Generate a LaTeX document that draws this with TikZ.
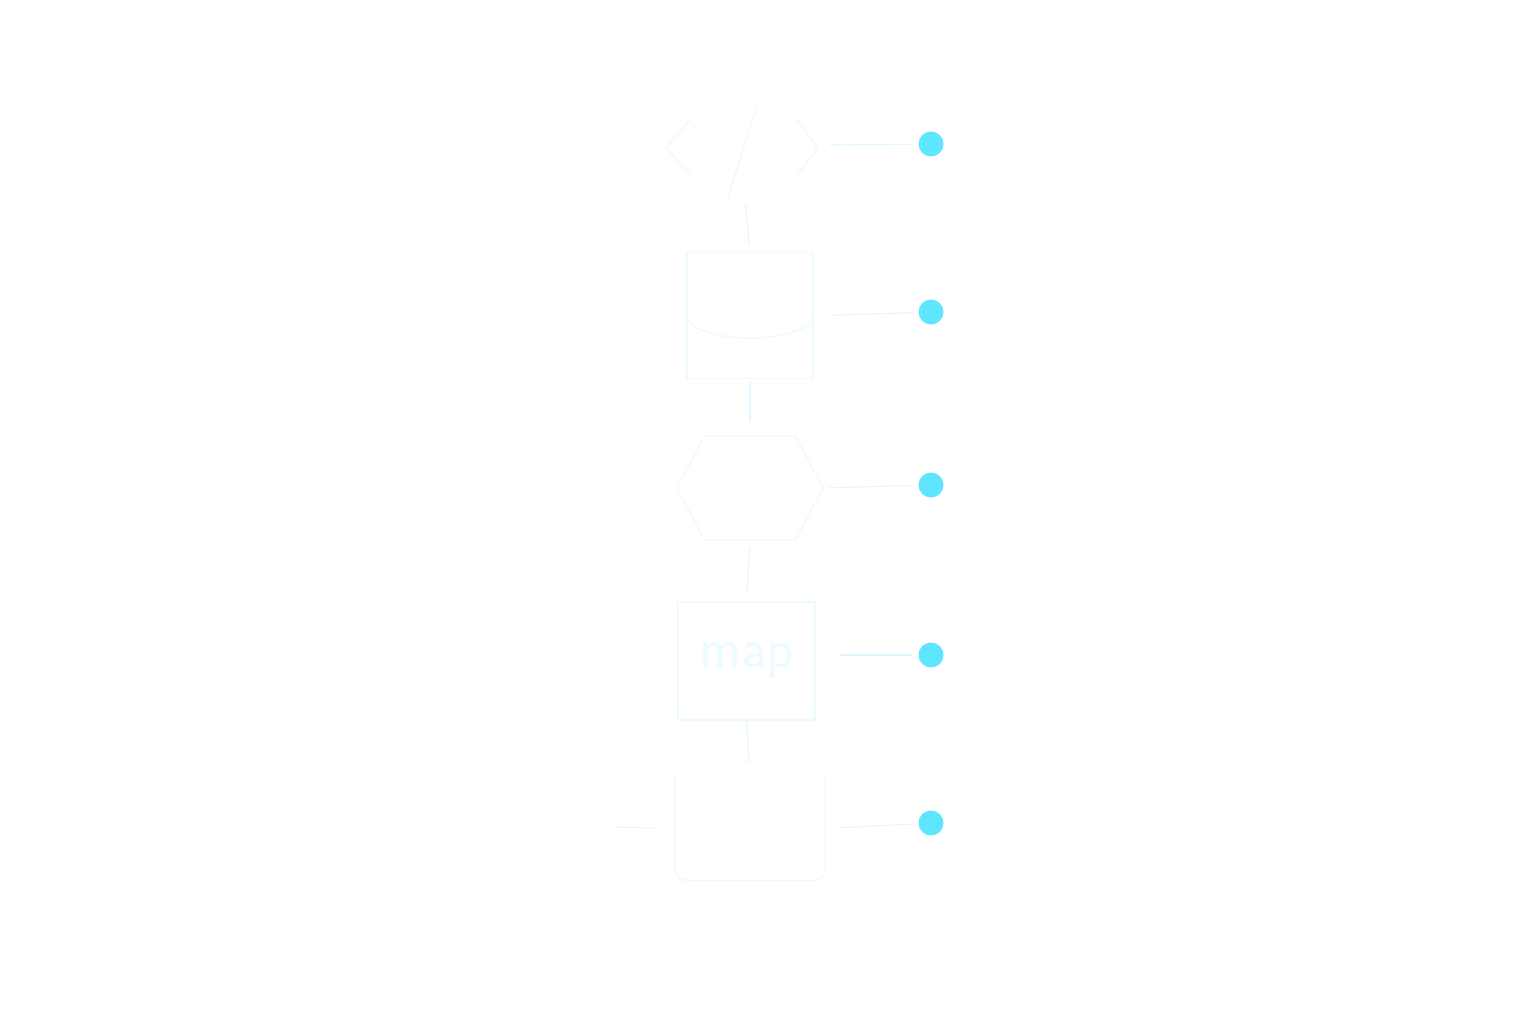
\documentclass[tikz,border=0pt]{standalone}
\usetikzlibrary{shapes.geometric,positioning,calc}
\definecolor{dotcyan}{RGB}{94,230,255}
\definecolor{ghostline}{RGB}{224,248,255}
\definecolor{ghostshape}{RGB}{236,251,255}
\tikzstyle{dot} = [circle, fill=dotcyan, minimum size=0.625cm, inner sep=0pt]
\tikzstyle{link} = [ghostline, line width=0.8pt]
\tikzstyle{stage} = [draw=ghostshape, line width=1pt, inner sep=0pt]

\begin{document}
\begin{tikzpicture}[x=0.025cm, y=-0.025cm]
\useasboundingbox (0,0) rectangle (1536,1024);
% markers on the right
\node[dot] (d1) at (931,144) {};
\node[dot] (d2) at (931,312) {};
\node[dot] (d3) at (931,485) {};
\node[dot] (d4) at (931,655) {};
\node[dot] (d5) at (931,823) {};
% code icon
\node[minimum width=3cm, minimum height=2.5cm] (code) at (745,150) {};
\draw[stage, line cap=round] (758,103) -- (728,197);
\draw[stage, line cap=round, line join=round] (690,120) -- (666,148) -- (690,175);
\draw[stage, line cap=round, line join=round] (797,120) -- (818,148) -- (797,175);
\coordinate (codeR) at (830,145);
% database
\node[stage, cylinder, shape border rotate=90, aspect=0.37, minimum width=3.15cm, minimum height=3.15cm] (db) at (750,316) {};
\draw[stage] ($(db.center)+(-63,0)$) arc[start angle=180, end angle=360, x radius=1.575cm, y radius=0.55cm];
% process hexagon
\node[minimum width=3.65cm, minimum height=2.575cm, inner sep=0pt] (hx) at (750,488) {};
\draw[stage] (hx.west) -- ([xshift=0.7cm]hx.north west) -- ([xshift=-0.7cm]hx.north east)
  -- (hx.east) -- ([xshift=-0.7cm]hx.south east) -- ([xshift=0.7cm]hx.south west) -- cycle;
% map step
\node[stage, rectangle, minimum width=3.425cm, minimum height=2.95cm, text=ghostshape,
  font=\fontsize{40}{40}\selectfont\sffamily] (mapbox) at (746.5,661) {map};
% sink
\node[minimum width=3.75cm, minimum height=2.575cm, inner sep=0pt] (sink) at (750,828.5) {};
\draw[stage, rounded corners=8pt] (sink.north west) -- (sink.south west) -- (sink.south east) -- (sink.north east);
\coordinate (inL) at (615,827);
% vertical flow
\draw[link] (code.south) -- (db.north) [shorten <=0.075cm, shorten >=0.2cm];
\draw[link, shorten <=0.05cm, shorten >=0.35cm] (db.south) -- (hx.north);
\draw[link, shorten <=0.2cm, shorten >=0.225cm] (hx.south) -- (mapbox.north);
\draw[link, shorten >=0.35cm] (mapbox.south) -- (sink.north);
\draw[link, shorten >=0.45cm] (inL) -- (sink.west);
% links to markers
\draw[link, shorten >=0.15cm] (codeR) -- (d1);
\draw[link, shorten <=0.425cm, shorten >=0.15cm] (db.east) -- (d2);
\draw[link, shorten <=0.125cm, shorten >=0.15cm] (hx.east) -- (d3);
\draw[link, shorten <=0.6cm, shorten >=0.15cm] (mapbox.east |- d4) -- (d4);
\draw[link, shorten <=0.325cm, shorten >=0.15cm] (sink.east) -- (d5);
\end{tikzpicture}
\end{document}
